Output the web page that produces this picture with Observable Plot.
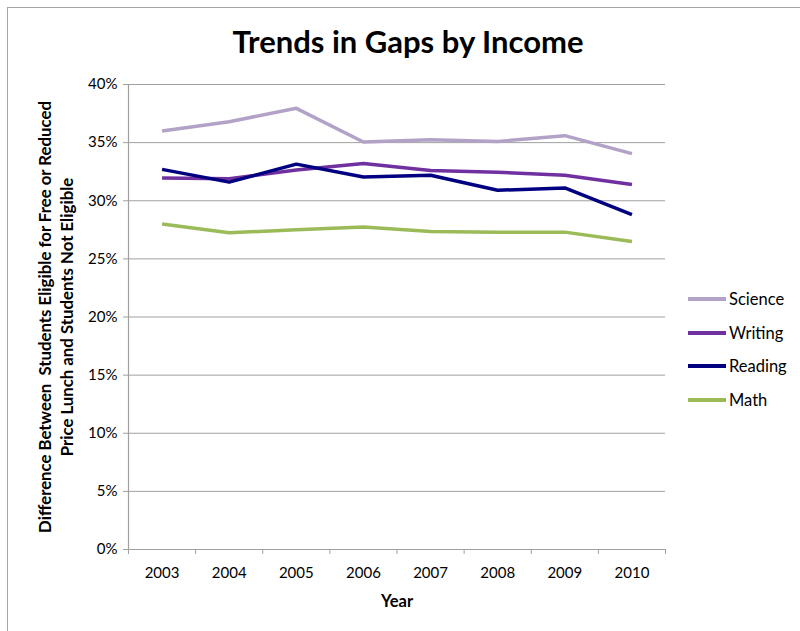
<!DOCTYPE html>
<html>
<head>
<meta charset="utf-8">
<script src="https://cdn.jsdelivr.net/npm/d3@7"></script>
<script src="https://cdn.jsdelivr.net/npm/@observablehq/plot@0.6"></script>
<style>
  html, body { margin: 0; padding: 0; background: #fff; }
  body { width: 800px; height: 631px; overflow: hidden; position: relative; font-family: Lato, "Open Sans", sans-serif; }
  #frame { position: absolute; left: 7px; top: 7px; width: 800px; height: 640px; border-left: 1px solid #a6a6a6; border-top: 1px solid #a6a6a6; }
  #chart { position: absolute; left: 0; top: 0; }
  #title { position: absolute; left: 0; width: 816px; top: 22px; text-align: center; font-weight: bold; font-size: 31px; color: #000; }
  #ylabel { position: absolute; left: 56px; top: 317px; transform: translate(-50%, -50%) rotate(-90deg); white-space: nowrap; text-align: center; font-weight: bold; font-size: 16.8px; line-height: 22px; color: #000; }
  #xlabel { position: absolute; left: 397px; top: 591px; transform: translateX(-50%); font-weight: bold; font-size: 16.5px; color: #000; }
  .leg { position: absolute; left: 688px; height: 20px; display: flex; align-items: center; font-size: 16.5px; color: #000; }
  .leg span.sw { display: inline-block; width: 38px; height: 4px; margin-right: 3px; }
</style>
</head>
<body>
<div id="frame"></div>
<div id="chart"></div>
<div id="title">Trends in Gaps by Income</div>
<div id="ylabel">Difference Between&nbsp; Students Eligible for Free or Reduced<br>Price Lunch and Students Not Eligible</div>
<div id="xlabel">Year</div>
<div id="legend"></div>
<script>
const years = [2003, 2004, 2005, 2006, 2007, 2008, 2009, 2010];
const subjects = ["Science", "Writing", "Reading", "Math"];
const colors = ["#b3a2c7", "#7030a0", "#000080", "#9bbb59"];
const science = [36.0, 36.8, 37.95, 35.05, 35.25, 35.1, 35.6, 34.05];
const writing = [31.95, 31.9, 32.65, 33.2, 32.6, 32.45, 32.2, 31.4];
const reading = [32.7, 31.6, 33.15, 32.05, 32.2, 30.9, 31.1, 28.8];
const math = [28.0, 27.25, 27.5, 27.75, 27.35, 27.3, 27.3, 26.5];
const yTicks = [0, 5, 10, 15, 20, 25, 30, 35, 40];

const seriesValues = [science, writing, reading, math];
const rows = [];
subjects.forEach((s, i) => {
  years.forEach((yr, j) => rows.push({subject: s, year: yr, value: seriesValues[i][j] / 100}));
});

const boundaries = years.map(y => y - 0.5).concat([years[years.length - 1] + 0.5]);
const gray = "#a0a0a0";

const chart = Plot.plot({
  width: 800,
  height: 631,
  marginLeft: 128,
  marginRight: 135,
  marginTop: 84,
  marginBottom: 82,
  style: {fontFamily: "Lato, 'Open Sans', sans-serif", fontSize: "15px", color: "#000", background: "transparent"},
  x: {type: "linear", domain: [years[0] - 0.5, years[years.length - 1] + 0.5]},
  y: {domain: [0, 0.4]},
  color: {domain: subjects, range: colors},
  marks: [
    Plot.gridY(yTicks.map(d => d / 100), {stroke: gray, strokeOpacity: 1, strokeWidth: 1}),
    Plot.ruleX([boundaries[0]], {stroke: gray, strokeWidth: 1.2}),
    Plot.ruleY([0], {stroke: gray, strokeWidth: 1.2}),
    Plot.axisY(yTicks.map(d => d / 100), {tickFormat: d3.format(".0%"), tickSize: 5, tickPadding: 6, stroke: gray, label: null, fontSize: 15}),
    Plot.axisX(boundaries, {tickSize: 5, tickFormat: () => "", stroke: gray, label: null}),
    Plot.axisX(years, {tickSize: 0, tickPadding: 18, tickFormat: d => String(d), label: null, fontSize: 15}),
    Plot.line(rows, {x: "year", y: "value", z: "subject", stroke: "subject", strokeWidth: 3.5, strokeLinejoin: "round", strokeLinecap: "butt"})
  ]
});
document.getElementById("chart").appendChild(chart);

const legend = document.getElementById("legend");
const legendTops = [289, 323, 356, 390];
subjects.forEach((s, i) => {
  const d = document.createElement("div");
  d.className = "leg";
  d.style.top = legendTops[i] + "px";
  d.innerHTML = `<span class="sw" style="background:${colors[i]}"></span>${s}`;
  legend.appendChild(d);
});
</script>
</body>
</html>
